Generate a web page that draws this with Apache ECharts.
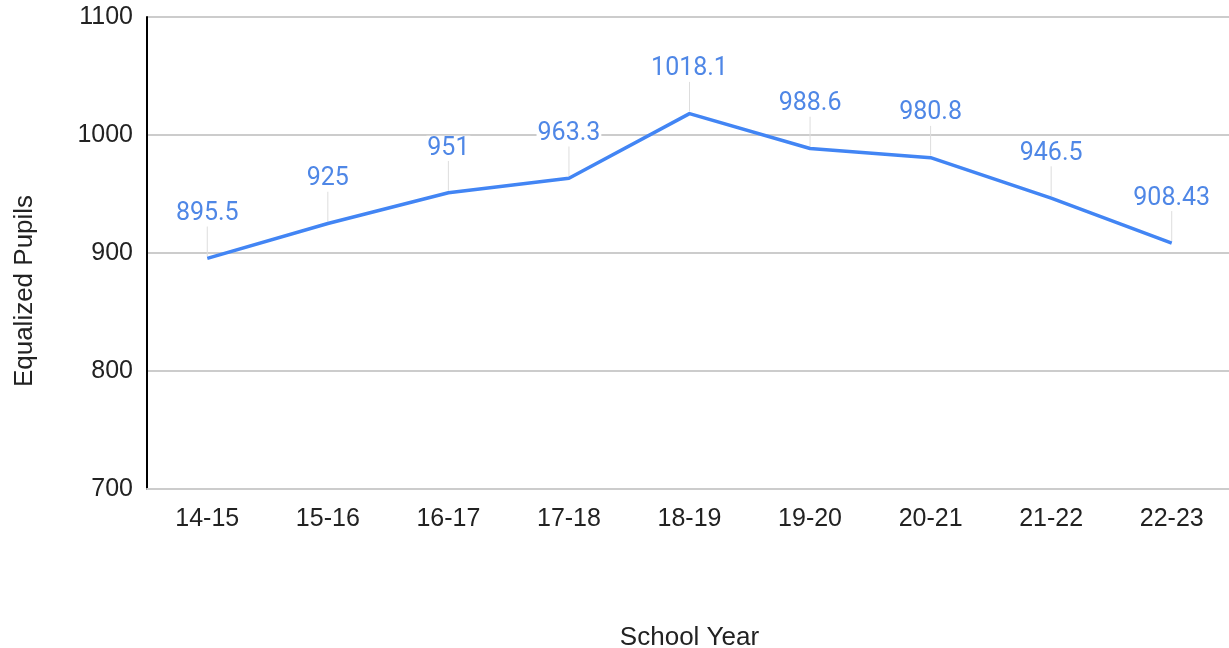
<!DOCTYPE html>
<html>
<head>
<meta charset="utf-8">
<script src="https://cdn.jsdelivr.net/npm/echarts@6/dist/echarts.min.js"></script>
<style>html,body{margin:0;padding:0;background:#fff;}#c{width:1229px;height:648px;}</style>
</head>
<body>
<div id="c"></div>
<script>
const categories = ['14-15','15-16','16-17','17-18','18-19','19-20','20-21','21-22','22-23'];
const pupils = [895.5, 925, 951, 963.3, 1018.1, 988.6, 980.8, 946.5, 908.43];
const yTicks = [700, 800, 900, 1000, 1100];
const xTitle = 'School Year';
const yTitle = 'Equalized Pupils';

const chart = echarts.init(document.getElementById('c'), null, {renderer: 'canvas'});
const blue = '#4285f4';
const labelBlue = '#4f87e6';
chart.setOption({
  animation: false,
  grid: {left: 147, top: 17, width: 1085, height: 472, containLabel: false, outerBoundsMode: 'none'},
  graphic: [{
    type: 'text',
    x: 25,
    y: 291,
    rotation: Math.PI / 2,
    style: {
      text: yTitle,
      fontFamily: 'Liberation Sans',
      fontSize: 26,
      fill: '#222',
      align: 'center',
      verticalAlign: 'middle'
    }
  }],
  xAxis: {
    type: 'category',
    data: categories,
    boundaryGap: true,
    name: xTitle,
    nameLocation: 'middle',
    nameGap: 136,
    nameTextStyle: {fontFamily: 'Liberation Sans', fontSize: 26, color: '#222'},
    axisLine: {show: true, lineStyle: {color: '#cccccc', width: 2}},
    axisTick: {show: false},
    axisLabel: {fontFamily: 'Liberation Sans', fontSize: 25, color: '#222', margin: 18}
  },
  yAxis: {
    type: 'value',
    min: yTicks[0],
    max: yTicks[yTicks.length - 1],
    interval: 100,
    axisLine: {show: true, lineStyle: {color: '#000', width: 2}},
    axisTick: {show: false},
    axisLabel: {fontFamily: 'Liberation Sans', fontSize: 25, color: '#222', margin: 14, formatter: function (v) { return String(v); }},
    splitLine: {show: true, lineStyle: {color: '#cccccc', width: 2}}
  },
  series: [
    {
      type: 'custom',
      data: pupils.map((v, i) => [i, v]),
      z: 1,
      renderItem: function (params, api) {
        const p = api.coord([api.value(0), api.value(1)]);
        return {
          type: 'line',
          shape: {x1: p[0], y1: p[1] - 2, x2: p[0], y2: p[1] - 32},
          style: {stroke: '#dddddd', lineWidth: 1}
        };
      }
    },
    {
      type: 'line',
      data: pupils,
      z: 3,
      showSymbol: true,
      symbol: 'circle',
      symbolSize: 0,
      itemStyle: {color: 'rgba(0,0,0,0)', borderWidth: 0},
      lineStyle: {color: blue, width: 3.5},
      label: {
        show: true,
        position: 'top',
        distance: 32,
        fontFamily: 'Roboto',
        fontSize: 25,
        color: labelBlue,
        backgroundColor: '#fff',
        padding: [0, 1]
      }
    }
  ]
});
</script>
</body>
</html>
